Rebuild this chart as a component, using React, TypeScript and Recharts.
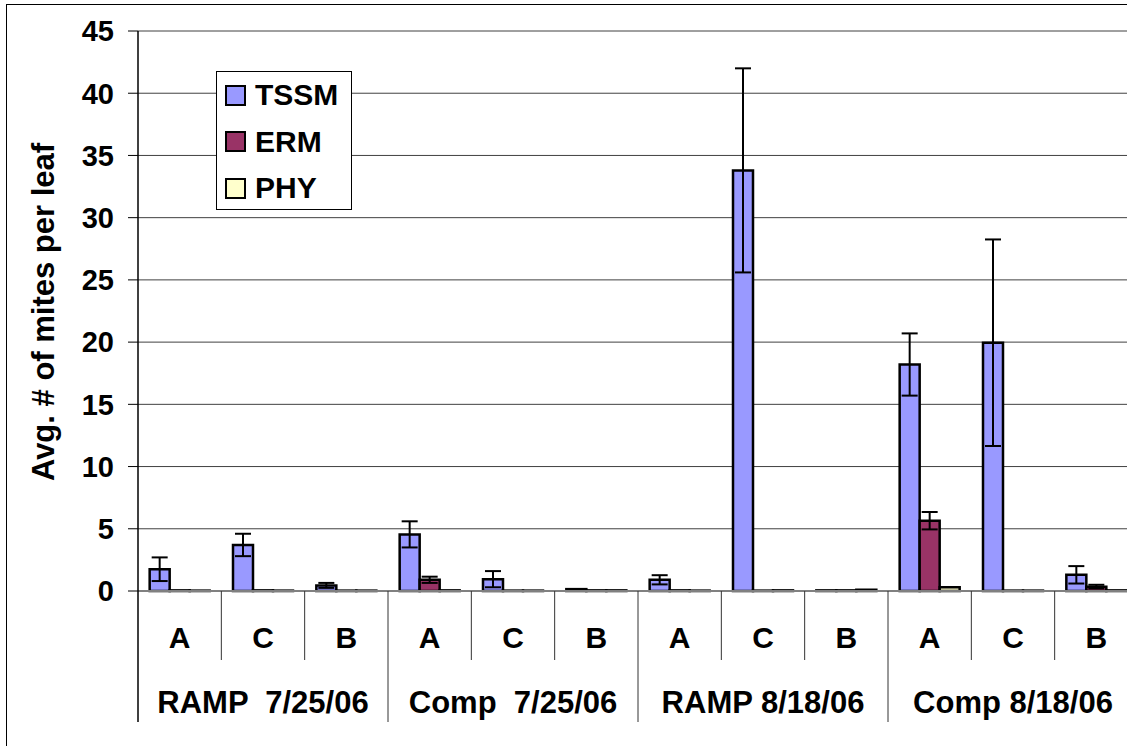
import React from "react"
import { Bar, BarChart, CartesianGrid, ErrorBar, Legend, XAxis, YAxis } from "recharts"

// categories
const sites = ["A", "C", "B", "A", "C", "B", "A", "C", "B", "A", "C", "B"]
const groups = ["RAMP  7/25/06", "Comp  7/25/06", "RAMP 8/18/06", "Comp 8/18/06"]

// series values (avg mites per leaf) and their error bars
const tssm = [1.75, 3.7, 0.45, 4.55, 0.95, 0.15, 0.9, 33.8, 0.05, 18.2, 19.95, 1.3]
const tssmErr = [0.95, 0.9, 0.2, 1.05, 0.65, 0, 0.37, 8.2, 0, 2.5, 8.3, 0.7]
const erm = [0.05, 0.05, 0.03, 0.9, 0.03, 0.05, 0.05, 0.03, 0.05, 5.65, 0.03, 0.35]
const ermErr = [0, 0, 0, 0.25, 0, 0, 0, 0, 0, 0.7, 0, 0.15]
const phy = [0.03, 0.03, 0.03, 0.05, 0.03, 0.05, 0.03, 0.05, 0.1, 0.3, 0.03, 0.05]

const yTicks = [0, 5, 10, 15, 20, 25, 30, 35, 40, 45]

const series = [
  { key: "tssm", err: "tssmErr", name: "TSSM", color: "#9999FF" },
  { key: "erm", err: "ermErr", name: "ERM", color: "#993366" },
  { key: "phy", err: null, name: "PHY", color: "#FFFFCC" },
]

const data = sites.map((site, i) => ({
  site,
  group: groups[Math.floor(i / 3)],
  tssm: tssm[i],
  tssmErr: tssmErr[i],
  erm: erm[i],
  ermErr: ermErr[i],
  phy: phy[i],
}))

const FONT = "'Liberation Sans', Arial, sans-serif"
const CHART_W = 1140
const CHART_H = 746
const PLOT_LEFT = 138
const PLOT_RIGHT = 1138
const PLOT_TOP = 31
const PLOT_BOTTOM = 591
const BAND = (PLOT_RIGHT - PLOT_LEFT) / sites.length

const SiteTick = (props: any) => {
  const { x, payload, index } = props
  const left = x - BAND / 2
  return (
    <g>
      {index % 3 !== 0 && <line x1={left} x2={left} y1={PLOT_BOTTOM} y2={660} stroke="#333" strokeWidth={1} />}
      <text x={x} y={648} textAnchor="middle" fontSize={30} fontWeight="bold" fontFamily={FONT} fill="#000">
        {payload.value}
      </text>
    </g>
  )
}

const GroupTick = (props: any) => {
  const { x, payload, index } = props
  const left = x - BAND / 2
  const right = x + BAND / 2
  return (
    <g>
      {index % 3 === 0 && (
        <line x1={left} x2={left} y1={PLOT_BOTTOM} y2={722} stroke={index === 0 ? "#000" : "#333"} strokeWidth={index === 0 ? 1.5 : 1} />
      )}
      {index === sites.length - 1 && <line x1={right} x2={right} y1={PLOT_BOTTOM} y2={722} stroke="#333" />}
      {index % 3 === 1 && (
        <text
          x={x}
          y={713}
          textAnchor="middle"
          fontSize={31}
          fontWeight="bold"
          fontFamily={FONT}
          fill="#000"
          style={{ whiteSpace: "pre" }}
        >
          {payload.value}
        </text>
      )}
    </g>
  )
}

const LegendBox = () => (
  <div
    style={{
      width: 134,
      height: 137,
      border: "1.5px solid #000",
      background: "#fff",
      position: "relative",
      fontFamily: FONT,
    }}
  >
    {series.map((s, i) => (
      <div key={s.key} style={{ position: "absolute", left: 8, top: 12 + i * 46.7, display: "flex", alignItems: "center" }}>
        <div style={{ width: 17, height: 17, border: "2px solid #000", background: s.color }} />
        <span style={{ marginLeft: 9, fontSize: 30, fontWeight: "bold", lineHeight: "22px", color: "#000" }}>{s.name}</span>
      </div>
    ))}
  </div>
)

export default function App() {
  return (
    <div style={{ position: "absolute", left: 0, top: 0, width: 1127, height: 746, overflow: "hidden", background: "#fff" }}>
      <div
        style={{
          position: "absolute",
          left: 6,
          top: 4,
          width: 1200,
          height: 800,
          border: "1.5px solid #000",
          pointerEvents: "none",
        }}
      />
      <BarChart
        width={CHART_W}
        height={CHART_H}
        data={data}
        margin={{ top: PLOT_TOP, right: CHART_W - PLOT_RIGHT, left: 0, bottom: 24 }}
        barGap={0}
        barCategoryGap="14%"
      >
        <CartesianGrid vertical={false} stroke="#404040" strokeWidth={1} />
        <XAxis
          dataKey="site"
          height={69}
          interval={0}
          tickLine={false}
          axisLine={{ stroke: "#808080", strokeWidth: 2 }}
          tick={<SiteTick />}
        />
        <XAxis
          xAxisId="group"
          dataKey="group"
          height={62}
          interval={0}
          tickLine={false}
          axisLine={false}
          tick={<GroupTick />}
        />
        <YAxis
          width={PLOT_LEFT}
          domain={[0, 45]}
          ticks={yTicks}
          interval={0}
          tickSize={10}
          tickMargin={14}
          axisLine={{ stroke: "#000", strokeWidth: 1.5 }}
          tickLine={{ stroke: "#000", strokeWidth: 1 }}
          tick={{ fontSize: 29, fontWeight: "bold", fill: "#000", fontFamily: FONT }}
          label={{
            content: () => (
              <text
                x={54}
                y={312}
                transform="rotate(-90 54 312)"
                textAnchor="middle"
                fontSize={31}
                fontWeight="bold"
                fontFamily={FONT}
                fill="#000"
              >
                Avg. # of mites per leaf
              </text>
            ),
          }}
        />
        <Legend
          layout="vertical"
          align="center"
          verticalAlign="middle"
          wrapperStyle={{ position: "absolute", left: 216, top: 71, width: "auto", height: "auto" }}
          content={() => <LegendBox />}
        />
        {series.map((s) => (
          <Bar
            key={s.key}
            dataKey={s.key}
            name={s.name}
            fill={s.color}
            stroke="#000"
            strokeWidth={2.5}
            isAnimationActive={false}
          >
            {s.err && <ErrorBar dataKey={s.err} width={8} stroke="#000" strokeWidth={2} direction="y" />}
          </Bar>
        ))}
      </BarChart>
    </div>
  )
}
